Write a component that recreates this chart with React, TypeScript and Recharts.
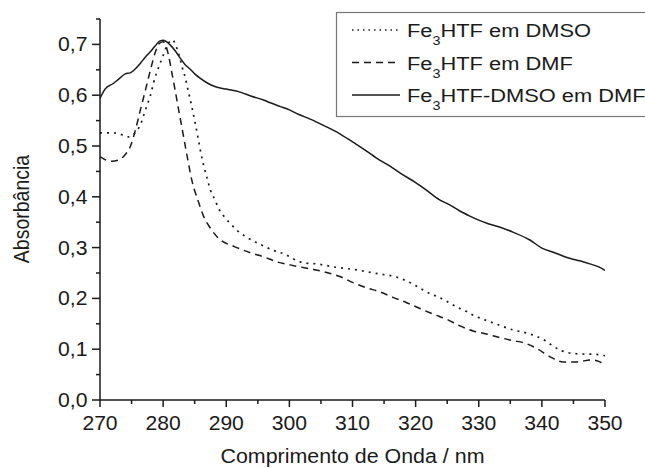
import React from 'react';
import { LineChart, Line, XAxis, YAxis } from 'recharts';

const FONT = '"Liberation Sans", Arial, Helvetica, sans-serif';

// Legend labels: [main prefix, subscript, rest]
const seriesLabels: [string, string, string][] = [
  ['Fe', '3', 'HTF em DMSO'],
  ['Fe', '3', 'HTF em DMF'],
  ['Fe', '3', 'HTF-DMSO em DMF'],
];

// Fe3HTF em DMSO (dotted)
const dmsoWl = [270, 271.5, 272.7, 273.7, 274.5, 275.2, 275.9, 276.5, 276.9, 277.5, 278, 278.5, 279, 279.5, 280, 280.5, 281, 281.5, 282, 282.5, 283, 283.5, 284, 284.5, 285, 285.5, 286, 286.5, 287, 287.5, 288.2, 288.8, 289.6, 290.6, 291.9, 293.3, 295.6, 298, 299.3, 300.6, 301.7, 303, 304.3, 307, 310.7, 314.3, 316.7, 319.3, 321.7, 324.4, 326.7, 328.1, 329.1, 330.7, 333.1, 335.4, 338.1, 340.5, 341.8, 343.1, 345.5, 348.1, 349.4, 350];
const dmsoAbs = [0.526, 0.526, 0.525, 0.521, 0.518, 0.522, 0.531, 0.545, 0.56, 0.582, 0.6, 0.625, 0.645, 0.662, 0.678, 0.695, 0.705, 0.709, 0.698, 0.68, 0.656, 0.635, 0.607, 0.58, 0.55, 0.518, 0.485, 0.458, 0.435, 0.413, 0.394, 0.377, 0.362, 0.348, 0.332, 0.32, 0.305, 0.292, 0.287, 0.278, 0.272, 0.269, 0.268, 0.262, 0.256, 0.248, 0.243, 0.23, 0.213, 0.198, 0.182, 0.174, 0.167, 0.159, 0.148, 0.138, 0.13, 0.117, 0.106, 0.097, 0.091, 0.09, 0.089, 0.087];

// Fe3HTF em DMF (dashed)
const dmfWl = [270, 271, 271.9, 272.8, 273.7, 274.3, 274.8, 275.6, 276.4, 277.2, 278, 278.8, 279.4, 280, 280.5, 280.9, 281.4, 281.9, 282.4, 283, 283.8, 284.6, 285.6, 286.4, 287.5, 288.8, 291.3, 293.8, 295.9, 298, 300.1, 301.7, 303.8, 305.9, 308, 310.1, 312.2, 314.3, 316.4, 318.5, 320.7, 322.8, 324.9, 327, 329.1, 331.2, 333.3, 335.4, 337.3, 339.4, 341.3, 343.4, 345.5, 347.8, 349, 350];
const dmfAbs = [0.479, 0.472, 0.47, 0.472, 0.479, 0.488, 0.499, 0.531, 0.571, 0.61, 0.65, 0.686, 0.702, 0.705, 0.695, 0.676, 0.643, 0.61, 0.575, 0.535, 0.48, 0.43, 0.39, 0.362, 0.338, 0.318, 0.302, 0.29, 0.282, 0.272, 0.266, 0.262, 0.257, 0.251, 0.243, 0.231, 0.221, 0.213, 0.202, 0.192, 0.18, 0.169, 0.159, 0.146, 0.136, 0.13, 0.123, 0.117, 0.112, 0.1, 0.085, 0.075, 0.075, 0.079, 0.076, 0.069];

// Fe3HTF-DMSO em DMF (solid)
const mixWl = [270, 270.8, 272.1, 273, 274, 274.8, 275.6, 276.4, 277.2, 278, 278.8, 279.5, 280, 281.1, 282, 282.7, 283.5, 284.3, 285.1, 285.9, 287, 288.2, 290, 292.2, 294, 296, 297, 298.5, 300, 301.5, 303.3, 305.5, 308, 310, 312, 314.3, 316, 317.5, 320, 321.5, 323.8, 325.4, 327, 328.6, 330, 331.5, 333.4, 335.5, 338.1, 340, 342, 344.4, 346, 347.6, 349, 350];
const mixAbs = [0.594, 0.612, 0.623, 0.632, 0.642, 0.644, 0.652, 0.663, 0.675, 0.686, 0.698, 0.707, 0.708, 0.699, 0.686, 0.673, 0.66, 0.651, 0.641, 0.633, 0.624, 0.617, 0.612, 0.606, 0.598, 0.59, 0.585, 0.578, 0.571, 0.562, 0.553, 0.54, 0.524, 0.508, 0.492, 0.472, 0.46, 0.447, 0.428, 0.415, 0.394, 0.384, 0.372, 0.362, 0.354, 0.347, 0.34, 0.33, 0.315, 0.299, 0.29, 0.279, 0.274, 0.268, 0.262, 0.255];

const xTicks = [270, 275, 280, 285, 290, 295, 300, 305, 310, 315, 320, 325, 330, 335, 340, 345, 350];
const yTicks = [0, 0.05, 0.1, 0.15, 0.2, 0.25, 0.3, 0.35, 0.4, 0.45, 0.5, 0.55, 0.6, 0.65, 0.7, 0.75];

const xLabel = 'Comprimento de Onda / nm';
const yLabel = 'Absorbância';

const toPoints = (wl: number[], abs: number[]) => wl.map((x, i) => ({ x, y: abs[i] }));
const dmsoData = toPoints(dmsoWl, dmsoAbs);
const dmfData = toPoints(dmfWl, dmfAbs);
const mixData = toPoints(mixWl, mixAbs);

const INK = '#1a1a1a';
const dashes = ['2 5', '7 5', undefined];

const XTick = (props: any) => {
  const { x, y, payload } = props;
  const v = payload.value as number;
  const major = Math.round(v) % 10 === 0;
  return (
    <g>
      <line x1={x} x2={x} y1={y} y2={y + (major ? 7 : 4)} stroke={INK} strokeWidth={1.5} />
      {major && (
        <text transform={`translate(${x},${y + 30}) scale(1.03,1)`} textAnchor="middle" fontSize={20.5} fontFamily={FONT} fill={INK}>
          {v}
        </text>
      )}
    </g>
  );
};

const YTick = (props: any) => {
  const { x, y, payload } = props;
  const v = payload.value as number;
  const major = Math.round(v * 100) % 10 === 0;
  return (
    <g>
      <line x1={x} x2={x - (major ? 8 : 4)} y1={y} y2={y} stroke={INK} strokeWidth={1.5} />
      {major && (
        <text transform={`translate(${x - 12.5},${y + 7}) scale(1.06,1)`} textAnchor="end" fontSize={20} fontFamily={FONT} fill={INK}>
          {v.toFixed(1).replace('.', ',')}
        </text>
      )}
    </g>
  );
};

const Legend = () => (
  <svg width={645} height={468} style={{ position: 'absolute', left: 0, top: 0, pointerEvents: 'none' }}>
    <rect x={336.5} y={12.5} width={320} height={104} fill="#fff" stroke="#777" strokeWidth={1.2} />
    {seriesLabels.map((lab, i) => {
      const base = 37 + i * 32.5;
      const ly = base - 7;
      return (
        <g key={i}>
          <line x1={352} x2={400} y1={ly} y2={ly} stroke={INK} strokeWidth={1.5} strokeDasharray={i === 0 ? '1.5 4' : dashes[i]} />
          <text transform={`translate(407,${base}) scale(1.15,1)`} fontSize={19} fontFamily={FONT} fill={INK}>
            <tspan>{lab[0]}</tspan>
            <tspan dy={8} fontSize={12.5}>{lab[1]}</tspan>
            <tspan dy={-8}>{lab[2]}</tspan>
          </text>
        </g>
      );
    })}
  </svg>
);

export default function App() {
  return (
    <div style={{ position: 'absolute', left: 0, top: 0, width: 645, height: 468, background: '#fff' }}>
      <LineChart width={645} height={468} margin={{ top: 19, right: 40, left: 0, bottom: 0 }}>
        <XAxis
          dataKey="x"
          type="number"
          domain={[270, 350]}
          ticks={xTicks}
          interval={0}
          tickSize={0}
          tickMargin={0}
          tickLine={false}
          axisLine={{ stroke: INK, strokeWidth: 1.5 }}
          tick={<XTick />}
          height={68}
          allowDataOverflow
          label={{
            content: () => (
              <text transform="translate(352.5,462.5) scale(1.07,1)" textAnchor="middle" fontSize={20} fontFamily={FONT} fill={INK}>
                {xLabel}
              </text>
            ),
          }}
        />
        <YAxis
          type="number"
          domain={[0, 0.75]}
          ticks={yTicks}
          interval={0}
          tickSize={0}
          tickMargin={0}
          tickLine={false}
          axisLine={{ stroke: INK, strokeWidth: 1.5 }}
          tick={<YTick />}
          width={100}
          allowDataOverflow
          label={{
            content: () => (
              <text transform="translate(28.5,209) scale(1.12,1) rotate(-90)" textAnchor="middle" fontSize={19.5} fontFamily={FONT} fill={INK}>
                {yLabel}
              </text>
            ),
          }}
        />
        <Line data={dmsoData} dataKey="y" type="monotone" stroke={INK} strokeWidth={1.7} strokeDasharray={dashes[0]} dot={false} isAnimationActive={false} />
        <Line data={dmfData} dataKey="y" type="monotone" stroke={INK} strokeWidth={1.5} strokeDasharray={dashes[1]} dot={false} isAnimationActive={false} />
        <Line data={mixData} dataKey="y" type="monotone" stroke={INK} strokeWidth={1.5} dot={false} isAnimationActive={false} />
      </LineChart>
      <Legend />
    </div>
  );
}
